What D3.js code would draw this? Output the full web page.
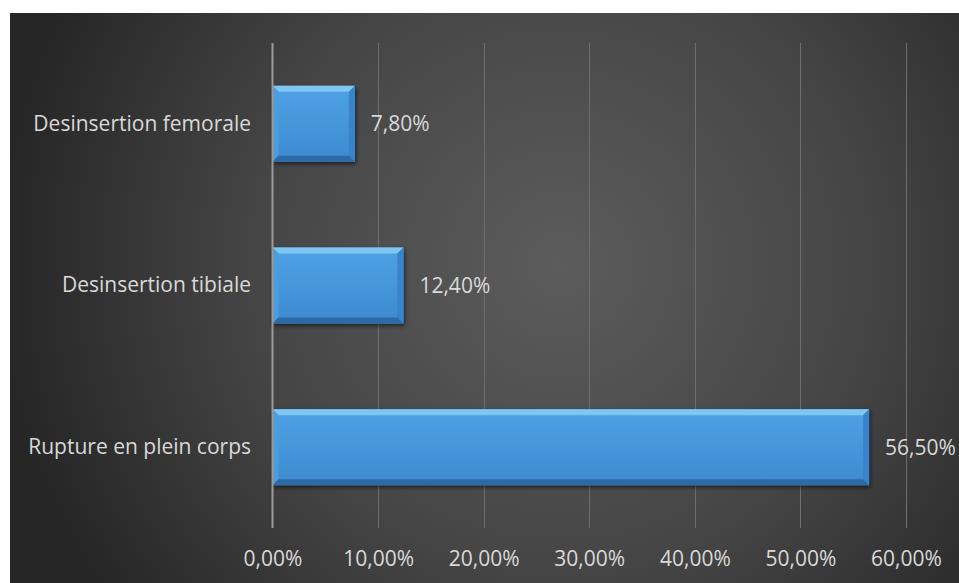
<!DOCTYPE html>
<html>
<head>
<meta charset="utf-8">
<script src="https://cdn.jsdelivr.net/npm/d3@7"></script>
<style>
  html, body { margin: 0; padding: 0; background: #ffffff; }
  svg { display: block; }
  text { font-family: "Open Sans", sans-serif; }
</style>
</head>
<body>
<svg id="chart" width="959" height="583"></svg>
<script>
// Types of lesion and their share of cases (%)
const categories = ["Desinsertion femorale", "Desinsertion tibiale", "Rupture en plein corps"];
const values = [7.8, 12.4, 56.5];
const tickValues = [0, 10, 20, 30, 40, 50, 60];
const tickLabels = ["0,00%", "10,00%", "20,00%", "30,00%", "40,00%", "50,00%", "60,00%"];

const W = 959, H = 583;
const FONT = "'Open Sans', sans-serif";
const FS = 21;
const svg = d3.select("#chart");
const defs = svg.append("defs");

// Dark radial backdrop, brighter towards the middle
const bg = defs.append("radialGradient").attr("id", "bgGrad")
  .attr("gradientUnits", "userSpaceOnUse")
  .attr("cx", 560).attr("cy", 265).attr("r", 560);
bg.append("stop").attr("offset", "0%").attr("stop-color", "#5c5c5c");
bg.append("stop").attr("offset", "55%").attr("stop-color", "#454545");
bg.append("stop").attr("offset", "100%").attr("stop-color", "#262626");

svg.append("rect").attr("x", 10).attr("y", 13).attr("width", W - 10).attr("height", H - 13)
  .attr("fill", "url(#bgGrad)");

// Face gradient of the bars
const face = defs.append("linearGradient").attr("id", "faceGrad")
  .attr("x1", 0).attr("y1", 0).attr("x2", 0).attr("y2", 1);
face.append("stop").attr("offset", "0%").attr("stop-color", "#4fa2e5");
face.append("stop").attr("offset", "100%").attr("stop-color", "#3d8ad0");

const shadow = defs.append("filter").attr("id", "barShadow")
  .attr("x", "-10%").attr("y", "-10%").attr("width", "130%").attr("height", "140%");
shadow.append("feGaussianBlur").attr("in", "SourceAlpha").attr("stdDeviation", 2);
shadow.append("feOffset").attr("dx", 1).attr("dy", 2).attr("result", "b");
shadow.append("feComponentTransfer").append("feFuncA").attr("type", "linear").attr("slope", 0.6);
const merge = shadow.append("feMerge");
merge.append("feMergeNode");
merge.append("feMergeNode").attr("in", "SourceGraphic");

const plot = { left: 272.5, right: 906, top: 43, bottom: 528 };

const x = d3.scaleLinear().domain([0, 60]).range([plot.left, plot.right]);
const y = d3.scaleBand().domain(categories.slice().reverse())
  .range([plot.bottom, plot.top]).paddingInner(0.53).paddingOuter(0.265);

// Vertical gridlines
svg.append("g").selectAll("line").data(tickValues.slice(1)).join("line")
  .attr("x1", d => Math.round(x(d)) + 0.5).attr("x2", d => Math.round(x(d)) + 0.5)
  .attr("y1", plot.top).attr("y2", plot.bottom)
  .attr("stroke", "#6e6e6e").attr("stroke-width", 1);

// Bottom axis labels only
const xAxis = d3.axisBottom(x).tickValues(tickValues)
  .tickFormat((d, i) => tickLabels[i]).tickSize(0).tickPadding(0);
const gx = svg.append("g").attr("transform", `translate(0, 566)`).call(xAxis);
gx.select(".domain").remove();
gx.selectAll("text").attr("fill", "#d9d9d9").attr("font-size", FS)
  .attr("dy", 0).style("font-family", FONT);

// Category labels on the left
const yAxis = d3.axisLeft(y).tickSize(0).tickPadding(0);
const gy = svg.append("g").attr("transform", `translate(251, 0)`).call(yAxis);
gy.select(".domain").remove();
gy.selectAll("text").attr("fill", "#d9d9d9").attr("font-size", FS)
  .style("font-family", FONT);

// Bevelled bars
const bev = 6;
const bars = svg.append("g").selectAll("g").data(categories).join("g")
  .attr("filter", "url(#barShadow)");
bars.each(function (c, i) {
  const g = d3.select(this);
  const x0 = x(0), x1 = x(values[i]);
  const y0 = y(c), y1 = y(c) + y.bandwidth();
  g.append("rect").attr("x", x0).attr("y", y0).attr("width", x1 - x0).attr("height", y1 - y0)
    .attr("fill", "url(#faceGrad)");
  const poly = (pts, fill) => g.append("polygon")
    .attr("points", pts.map(p => p.join(",")).join(" ")).attr("fill", fill);
  poly([[x0, y0], [x1, y0], [x1 - bev, y0 + bev], [x0 + bev, y0 + bev]], "#80c6f3");
  poly([[x0, y0], [x0 + bev, y0 + bev], [x0 + bev, y1 - bev], [x0, y1]], "#4b9de2");
  poly([[x1, y0], [x1, y1], [x1 - bev, y1 - bev], [x1 - bev, y0 + bev]], "#3a83c8");
  poly([[x0, y1], [x0 + bev, y1 - bev], [x1 - bev, y1 - bev], [x1, y1]], "#2f6aa6");
});

// Value labels
svg.append("g").selectAll("text").data(categories).join("text")
  .attr("x", (c, i) => x(values[i]) + 16)
  .attr("y", c => y(c) + y.bandwidth() / 2)
  .attr("dy", "0.35em")
  .attr("fill", "#d9d9d9").attr("font-size", FS)
  .style("font-family", FONT)
  .text((c, i) => values[i].toFixed(2).replace(".", ",") + "%");

// Vertical axis line at zero
svg.append("line").attr("x1", x(0)).attr("x2", x(0))
  .attr("y1", plot.top).attr("y2", plot.bottom)
  .attr("stroke", "#9a9a9a").attr("stroke-width", 2);
</script>
</body>
</html>
